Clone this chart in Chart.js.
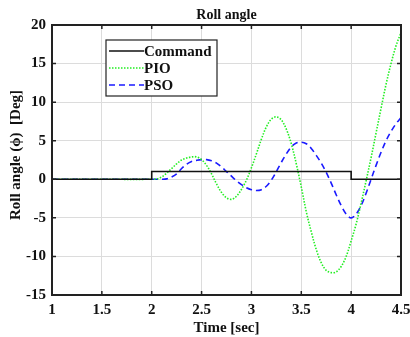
<!DOCTYPE html>
<html>
<head>
<meta charset="utf-8">
<script src="https://cdn.jsdelivr.net/npm/chart.js@4.4.1/dist/chart.umd.min.js"></script>
<style>
  html, body { margin: 0; padding: 0; background: #fff; }
  #wrap { width: 410px; height: 337px; }
</style>
</head>
<body>
<div id="wrap"><canvas id="rollChart" width="410" height="337"></canvas></div>
<script>
// reference command step
const timeCommand = [1, 2, 2, 4, 4, 4.5];
const command = [0, 0, 1, 1, 0, 0];

// sample times for the responses
const timeResp = [1, 1.5, 2.0, 2.05, 2.1, 2.15, 2.2, 2.25, 2.3, 2.35, 2.4, 2.45, 2.5, 2.55, 2.6, 2.65, 2.7, 2.75, 2.8, 2.85, 2.9, 2.95,
  3.0, 3.05, 3.1, 3.15, 3.2, 3.25, 3.3, 3.35, 3.4, 3.45, 3.5, 3.55, 3.6, 3.65, 3.7, 3.75, 3.8, 3.85, 3.9, 3.95,
  4.0, 4.05, 4.1, 4.15, 4.2, 4.25, 4.3, 4.35, 4.4, 4.45, 4.5];
const pio = [0, 0, 0, 0.05, 0.3, 0.8, 1.4, 2.0, 2.5, 2.75, 2.9, 2.9, 2.55, 1.8, 0.7, -0.6, -1.7, -2.4, -2.6, -2.2, -1.3, -0.1,
  1.5, 3.3, 5.2, 6.8, 7.8, 8.1, 7.7, 6.5, 4.6, 2.0, -1.0, -4.2, -6.8, -9.1, -10.8, -11.8, -12.1, -12.0, -11.3, -10.0,
  -8.0, -5.8, -3.1, -0.2, 2.8, 6.0, 9.2, 12.3, 15.0, 17.3, 19.0];
const pso = [0, 0, 0, 0, 0, 0.05, 0.3, 0.7, 1.4, 1.95, 2.3, 2.45, 2.55, 2.55, 2.4, 2.1, 1.6, 1.0, 0.4, -0.2, -0.7, -1.1,
  -1.35, -1.45, -1.35, -0.9, -0.1, 1.0, 2.2, 3.3, 4.2, 4.7, 4.8, 4.6, 4.0, 3.1, 2.1, 0.9, -0.5, -2.0, -3.4, -4.5,
  -5.0, -4.5, -3.4, -1.8, 0.0, 1.8, 3.5, 5.0, 6.2, 7.2, 8.0];

const seriesNames = ['Command', 'PIO', 'PSO'];
const xTicks = [1, 1.5, 2, 2.5, 3, 3.5, 4, 4.5];
const yTicks = [-15, -10, -5, 0, 5, 10, 15, 20];

const serif = '"Liberation Serif", "Times New Roman", serif';

function pts(xs, ys) {
  return xs.map((x, i) => ({ x: x, y: ys[i] }));
}

// box, inward ticks, titles and legend like the matlab figure
const matlabLook = {
  id: 'matlabLook',
  afterDraw(chart) {
    const { ctx, chartArea: a, scales } = chart;
    ctx.save();
    ctx.strokeStyle = '#222';
    ctx.lineWidth = 1.5;
    ctx.beginPath();
    xTicks.forEach(v => {
      const px = scales.x.getPixelForValue(v);
      ctx.moveTo(px, a.bottom); ctx.lineTo(px, a.bottom - 4);
      ctx.moveTo(px, a.top); ctx.lineTo(px, a.top + 4);
    });
    yTicks.forEach(v => {
      const py = scales.y.getPixelForValue(v);
      ctx.moveTo(a.left, py); ctx.lineTo(a.left + 4, py);
      ctx.moveTo(a.right, py); ctx.lineTo(a.right - 4, py);
    });
    ctx.stroke();
    ctx.lineWidth = 2;
    ctx.strokeRect(a.left, a.top, a.right - a.left, a.bottom - a.top);

    // titles
    ctx.fillStyle = '#111';
    ctx.font = 'bold 14px ' + serif;
    ctx.textAlign = 'center';
    ctx.textBaseline = 'middle';
    ctx.fillText('Roll angle', (a.left + a.right) / 2, 15);
    ctx.font = 'bold 15px ' + serif;
    ctx.fillText('Time [sec]', (a.left + a.right) / 2, 328);
    ctx.save();
    ctx.translate(16, 155);
    ctx.rotate(-Math.PI / 2);
    ctx.fillText('Roll angle (ϕ)  [Deg]', 0, 0);
    ctx.restore();

    // legend
    const lx = 106, ly = 40, lw = 111, lh = 56;
    ctx.fillStyle = '#fff';
    ctx.fillRect(lx, ly, lw, lh);
    ctx.lineWidth = 1.2;
    ctx.strokeStyle = '#222';
    ctx.strokeRect(lx, ly, lw, lh);
    ctx.font = 'bold 15px ' + serif;
    ctx.textAlign = 'left';
    chart.data.datasets.forEach((ds, i) => {
      const y = ly + 11 + i * 17;
      ctx.strokeStyle = ds.borderColor;
      ctx.lineWidth = ds.borderWidth;
      ctx.setLineDash(ds.borderDash || []);
      ctx.beginPath();
      ctx.moveTo(lx + 3, y);
      ctx.lineTo(lx + 38, y);
      ctx.stroke();
      ctx.setLineDash([]);
      ctx.fillStyle = '#111';
      ctx.fillText(ds.label, lx + 38, y + 1);
    });
    ctx.restore();
  }
};

new Chart(document.getElementById('rollChart').getContext('2d'), {
  type: 'line',
  data: {
    datasets: [{
      label: seriesNames[0],
      data: pts(timeCommand, command),
      borderColor: '#111',
      borderWidth: 1.6,
      pointRadius: 0,
      tension: 0
    }, {
      label: seriesNames[1],
      data: pts(timeResp, pio),
      borderColor: '#22ee22',
      borderWidth: 1.6,
      borderDash: [1.5, 1.5],
      pointRadius: 0,
      tension: 0.35
    }, {
      label: seriesNames[2],
      data: pts(timeResp, pso),
      borderColor: '#1a1aff',
      borderWidth: 1.6,
      borderDash: [6, 4],
      pointRadius: 0,
      tension: 0.35
    }]
  },
  options: {
    responsive: false,
    animation: false,
    layout: { padding: { top: 25, right: 9, left: 0, bottom: 0 } },
    plugins: {
      legend: { display: false },
      title: { display: false },
      tooltip: { enabled: false }
    },
    scales: {
      x: {
        type: 'linear',
        min: 1, max: 4.5,
        afterBuildTicks: s => { s.ticks = xTicks.map(v => ({ value: v })); },
        afterFit: s => { s.height = 42; s.paddingLeft = 0; s.paddingRight = 0; },
        grid: { color: '#dcdcdc', drawTicks: false },
        border: { display: false },
        ticks: {
          color: '#111', font: { family: serif, size: 15, weight: 'bold' }, padding: 6, maxRotation: 0,
          callback: v => String(v)
        }
      },
      y: {
        min: -15, max: 20,
        afterBuildTicks: s => { s.ticks = yTicks.map(v => ({ value: v })); },
        afterFit: s => { s.width = 52; s.paddingTop = 0; s.paddingBottom = 0; },
        grid: { color: '#dcdcdc', drawTicks: false },
        border: { display: false },
        ticks: { color: '#111', font: { family: serif, size: 15, weight: 'bold' }, padding: 6 }
      }
    }
  },
  plugins: [matlabLook]
});
</script>
</body>
</html>
